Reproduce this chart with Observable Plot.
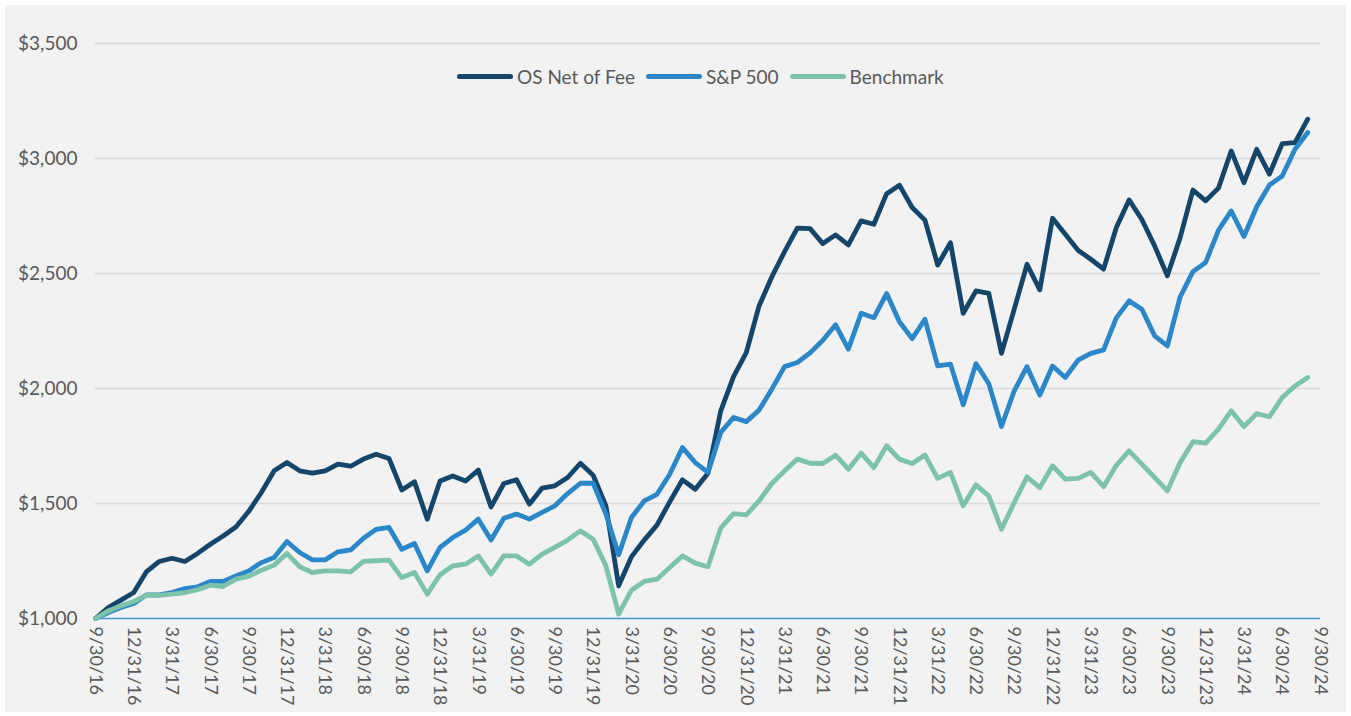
<!DOCTYPE html>
<html><head><meta charset="utf-8">
<script src="https://cdn.jsdelivr.net/npm/d3@7"></script>
<script src="https://cdn.jsdelivr.net/npm/@observablehq/plot@0.6"></script>
<style>
body{margin:0;background:#ffffff;width:1351px;height:716px;overflow:hidden;}
#frame{position:absolute;left:5px;top:5px;width:1341px;height:707px;background:#f2f2f2;}
#chart{position:absolute;left:0;top:0;}
#legend{position:absolute;top:65px;left:457px;display:flex;align-items:center;font-family:Lato,sans-serif;font-size:19px;color:#595959;white-space:nowrap;}
.item{display:flex;align-items:center;margin-right:11px;}
.sw{width:56px;height:5px;border-radius:3px;margin-right:4px;}
</style>
</head><body>
<div id="frame"></div>
<div id="chart"></div>
<div id="legend"></div>
<script>
const seriesNames = ["OS Net of Fee", "S&P 500", "Benchmark"];
const seriesColors = ["#16456a", "#2b87c8", "#7cc3a9"];

const osNet = [1000,1048,1080,1113,1204,1248,1262,1248,1283,1323,1359,1398,1465,1548,1642,1678,
1642,1632,1642,1671,1662,1693,1714,1696,1559,1594,1432,1598,1620,1598,1645,1485,
1587,1603,1497,1567,1577,1613,1675,1623,1490,1142,1268,1341,1406,1507,1603,1562,
1632,1903,2052,2156,2359,2485,2595,2697,2695,2630,2668,2624,2729,2714,2847,2884,
2787,2732,2537,2634,2327,2424,2414,2153,2345,2540,2429,2740,2671,2601,2562,2519,
2700,2820,2735,2620,2490,2656,2863,2816,2871,3033,2895,3040,2932,3065,3069,3171];

const sp500 = [1000,1026,1048,1065,1103,1103,1113,1130,1138,1161,1161,1185,1207,1243,1265,1335,
1287,1255,1255,1290,1298,1349,1388,1396,1301,1326,1207,1309,1352,1384,1432,1341,
1436,1454,1432,1461,1490,1543,1588,1588,1454,1277,1439,1511,1540,1627,1743,1678,
1635,1809,1874,1856,1906,1997,2095,2113,2155,2210,2277,2171,2327,2308,2413,2290,
2217,2301,2098,2106,1929,2108,2022,1835,1990,2095,1972,2098,2048,2123,2153,2168,
2307,2381,2345,2229,2185,2398,2508,2548,2688,2772,2661,2790,2885,2924,3040,3113];

const benchmark = [1000,1033,1055,1074,1101,1101,1106,1113,1125,1145,1139,1171,1183,1210,1232,1283,
1225,1200,1207,1207,1203,1248,1251,1254,1178,1200,1106,1190,1229,1236,1272,1193,
1272,1272,1236,1280,1309,1341,1381,1345,1229,1019,1123,1161,1171,1222,1272,1241,
1225,1393,1456,1451,1511,1587,1642,1693,1675,1674,1710,1649,1719,1656,1751,1693,
1674,1711,1609,1635,1490,1581,1533,1388,1504,1616,1569,1664,1606,1609,1635,1573,
1666,1729,1671,1613,1555,1678,1769,1762,1823,1903,1835,1891,1877,1961,2011,2048];

const tickLabels = ["9/30/16","12/31/16","3/31/17","6/30/17","9/30/17","12/31/17","3/31/18","6/30/18",
"9/30/18","12/31/18","3/31/19","6/30/19","9/30/19","12/31/19","3/31/20","6/30/20",
"9/30/20","12/31/20","3/31/21","6/30/21","9/30/21","12/31/21","3/31/22","6/30/22",
"9/30/22","12/31/22","3/31/23","6/30/23","9/30/23","12/31/23","3/31/24","6/30/24","9/30/24"];

const yTicks = [1000,1500,2000,2500,3000,3500];

const allSeries = [osNet, sp500, benchmark];
const rows = [];
allSeries.forEach((arr, k) => arr.forEach((v, i) => rows.push({i, v, s: seriesNames[k]})));
const xTicks = tickLabels.map((_, k) => k * 3);

const chart = Plot.plot({
  width: 1351, height: 716,
  marginLeft: 95, marginRight: 31, marginTop: 43, marginBottom: 98,
  style: {background: "transparent", fontFamily: "Lato, sans-serif", fontSize: "19px", color: "#595959", overflow: "visible"},
  x: {domain: [0, 96], label: null},
  y: {domain: [1000, 3500], label: null},
  color: {domain: seriesNames, range: seriesColors},
  marks: [
    Plot.gridY(yTicks, {stroke: "#d9d9d9", strokeOpacity: 1, strokeWidth: 1.4}),
    Plot.axisY(yTicks, {tickSize: 0, tickPadding: 18, tickFormat: d => "$" + d3.format(",")(d), fill: "#595959"}),
    Plot.axisX(xTicks, {tickSize: 0, tickPadding: 8, tickRotate: 90, fontSize: 18, tickFormat: d => tickLabels[d / 3], fill: "#595959"}),
    Plot.ruleY([1000], {stroke: "#3f9bd5", strokeWidth: 1.6}),
    Plot.line(rows, {x: "i", y: "v", z: "s", stroke: "s", strokeWidth: 4.8, strokeLinejoin: "round", strokeLinecap: "round"})
  ]
});
document.getElementById("chart").appendChild(chart);

const legend = document.getElementById("legend");
seriesNames.forEach((n, k) => {
  const it = document.createElement("div"); it.className = "item";
  const sw = document.createElement("div"); sw.className = "sw"; sw.style.background = seriesColors[k];
  const tx = document.createElement("span"); tx.textContent = n;
  it.appendChild(sw); it.appendChild(tx); legend.appendChild(it);
});
</script>
</body></html>
